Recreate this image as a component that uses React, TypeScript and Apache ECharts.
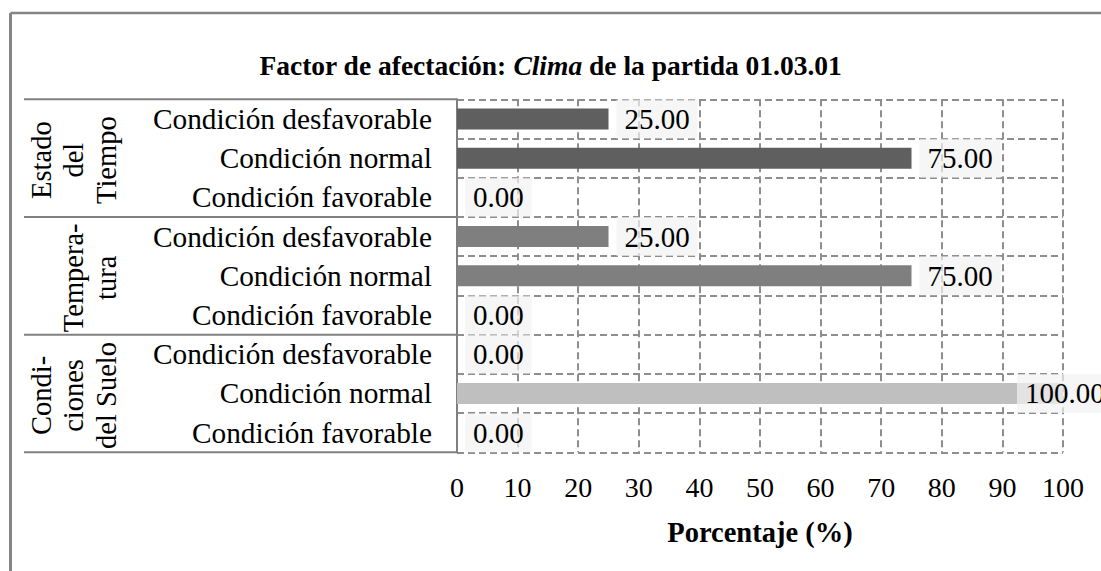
import React, { useEffect, useRef } from 'react';
import * as echarts from 'echarts';

const categories = [
  'Condición desfavorable',
  'Condición normal',
  'Condición favorable',
  'Condición desfavorable',
  'Condición normal',
  'Condición favorable',
  'Condición desfavorable',
  'Condición normal',
  'Condición favorable',
];
const values = [25, 75, 0, 25, 75, 0, 0, 100, 0];
const groupLabels = [
  ['Estado', 'del', 'Tiempo'],
  ['Tempera-', 'tura'],
  ['Condi-', 'ciones', 'del Suelo'],
];
const groupSizes = [3, 3, 3];
const groupColors = ['#5f5f5f', '#7f7f7f', '#bfbfbf'];
const xMin = 0;
const xMax = 100;
const xInterval = 10;
const titleParts = ['Factor de afectación: ', 'Clima', ' de la partida 01.03.01'];
const xAxisName = 'Porcentaje (%)';

const FONT = 'Liberation Serif';

export default function App() {
  const ref = useRef<HTMLDivElement>(null);
  useEffect(() => {
    const chart = echarts.init(ref.current!, undefined, { renderer: 'svg' });

    const groupOf: number[] = [];
    groupSizes.forEach((s, g) => {
      for (let k = 0; k < s; k++) groupOf.push(g);
    });

    const data = values.map((v, i) => {
      const item: any = { value: v, itemStyle: { color: groupColors[groupOf[i]] } };
      if (v >= xMax) item.label = { offset: [-54, 0] };
      return item;
    });

    const option: any = {
      animation: false,
      backgroundColor: '#ffffff',
      title: {
        text: `{b|${titleParts[0]}}{i|${titleParts[1]}}{b|${titleParts[2]}}`,
        left: 'center',
        top: 44,
        textStyle: {
          rich: {
            b: { fontFamily: FONT, fontSize: 27.5, fontWeight: 'bold', color: '#000', lineHeight: 32 },
            i: { fontFamily: FONT, fontSize: 27.5, fontWeight: 'bold', fontStyle: 'italic', color: '#000', lineHeight: 32 },
          },
        },
      },
      grid: { left: 457, right: 38, top: 99.3, bottom: 118.7, containLabel: false },
      xAxis: {
        type: 'value',
        min: xMin,
        max: xMax,
        interval: xInterval,
        name: xAxisName,
        nameLocation: 'middle',
        nameGap: 66,
        nameTextStyle: { fontFamily: FONT, fontSize: 28.5, fontWeight: 'bold', color: '#000', lineHeight: 29 },
        axisLine: { show: false },
        axisTick: { show: false },
        axisLabel: { fontFamily: FONT, fontSize: 28, color: '#000', margin: 21.5, lineHeight: 28 },
        splitLine: { show: true, lineStyle: { color: '#8e8e8e', width: 2, type: [7, 4] } },
      },
      yAxis: {
        type: 'category',
        inverse: true,
        data: categories,
        axisLine: { show: true, lineStyle: { color: '#808080', width: 2 } },
        axisTick: { show: false },
        axisLabel: { fontFamily: FONT, fontSize: 29.3, color: '#000', margin: 25, align: 'right' },
        splitLine: { show: true, interval: 0, lineStyle: { color: '#8e8e8e', width: 2, type: [7, 4] } },
      },
      series: [
        {
          type: 'bar',
          data,
          barWidth: 21,
          label: {
            show: true,
            position: 'right',
            distance: 8,
            formatter: (p: any) => Number(p.value).toFixed(2),
            fontFamily: FONT,
            fontSize: 29,
            lineHeight: 29,
            color: '#000',
            backgroundColor: 'rgba(242,242,242,0.7)',
            padding: [5, 8, 5, 8],
          },
        },
      ],
    };
    chart.setOption(option);

    const yc = (i: number) => chart.convertToPixel({ yAxisIndex: 0 }, i) as number;
    const band = yc(1) - yc(0);
    const axisX = chart.convertToPixel({ xAxisIndex: 0 }, xMin) as number;
    const graphics: any[] = [
      {
        type: 'line',
        shape: { x1: 10.5, y1: 13, x2: 1101, y2: 13 },
        style: { stroke: '#858585', lineWidth: 2.5 },
        silent: true,
      },
      {
        type: 'line',
        shape: { x1: 10.5, y1: 13, x2: 10.5, y2: 571 },
        style: { stroke: '#858585', lineWidth: 3 },
        silent: true,
      },
    ];
    let start = 0;
    const bounds: number[] = [yc(0) - band / 2];
    groupSizes.forEach((s, g) => {
      const top = yc(start) - band / 2;
      const bottom = yc(start + s - 1) + band / 2;
      bounds.push(bottom);
      const cy = (top + bottom) / 2 + 2;
      const lines = groupLabels[g];
      lines.forEach((t, k) => {
        const x = 106 - (lines.length - 1 - k) * 32.5;
        graphics.push({
          type: 'text',
          x,
          y: cy,
          rotation: Math.PI / 2,
          style: {
            text: t,
            fontFamily: FONT,
            fontSize: 28.5,
            fill: '#000',
            align: 'center',
            verticalAlign: 'middle',
          },
          silent: true,
        });
      });
      start += s;
    });
    bounds.forEach((y) => {
      graphics.push({
        type: 'line',
        shape: { x1: 24, y1: y, x2: axisX, y2: y },
        style: { stroke: '#808080', lineWidth: 2 },
        silent: true,
      });
    });
    chart.setOption({ graphic: graphics });

    return () => chart.dispose();
  }, []);
  return (
    <div
      ref={ref}
      style={{ position: 'fixed', left: 0, top: 0, width: 1101, height: 571, background: '#fff' }}
    />
  );
}
